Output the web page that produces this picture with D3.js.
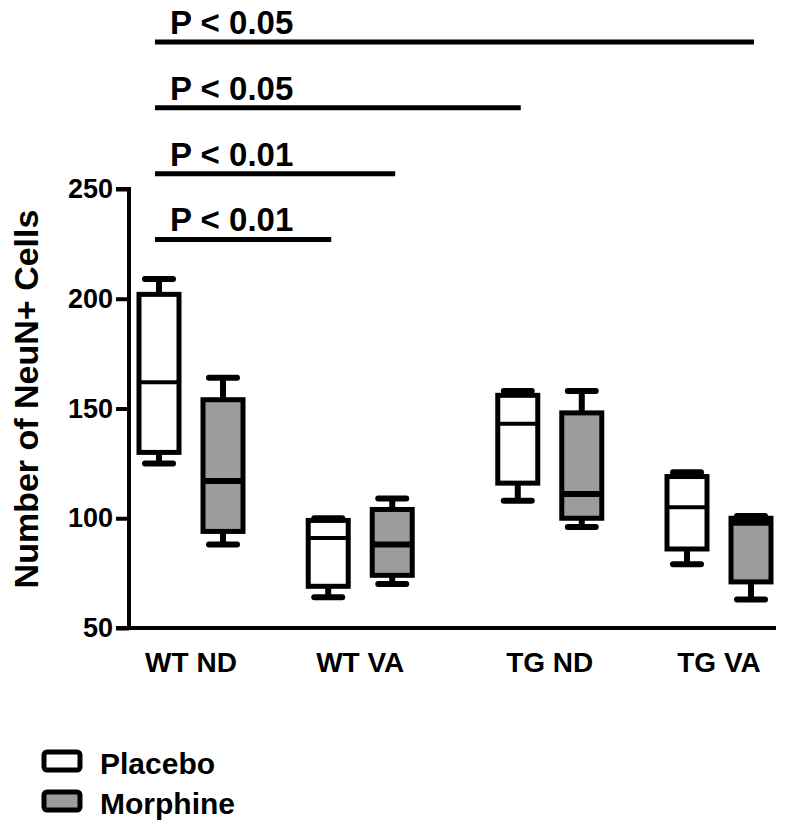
<!DOCTYPE html>
<html>
<head>
<meta charset="utf-8">
<script src="https://cdn.jsdelivr.net/npm/d3@7/dist/d3.min.js"></script>
<style>
  html, body { margin: 0; padding: 0; background: #fff; }
  svg { display: block; }
  text { font-family: "Liberation Sans", Arial, sans-serif; font-weight: bold; fill: #000; }
</style>
</head>
<body>
<svg id="chart" width="800" height="833"></svg>
<script>
// ---------- data ----------
const groups = ["WT ND", "WT VA", "TG ND", "TG VA"];
const treatments = ["Placebo", "Morphine"];
// [whiskerLow, q1, median, q3, whiskerHigh] per group
const placeboStats = [
  [125, 130, 162, 202, 209],
  [64, 69, 91, 99, 100],
  [108, 116, 143, 156, 158],
  [79, 86, 105, 119, 121]
];
const morphineStats = [
  [88, 94, 117, 154, 164],
  [70, 74, 88, 104, 109],
  [96, 100, 111, 148, 158],
  [63, 71, 98, 100, 101]
];
const yTicks = [50, 100, 150, 200, 250];
const yLabel = "Number of NeuN+ Cells";
// significance comparisons: [from group, from treatment, to group, to treatment, label, level]
const comparisons = [
  ["WT ND", "Placebo", "WT VA", "Placebo", "P < 0.01", 227],
  ["WT ND", "Placebo", "WT VA", "Morphine", "P < 0.01", 257],
  ["WT ND", "Placebo", "TG ND", "Placebo", "P < 0.05", 287],
  ["WT ND", "Placebo", "TG VA", "Morphine", "P < 0.05", 317]
];
const fills = { Placebo: "#ffffff", Morphine: "#9c9c9c" };

// ---------- layout ----------
const svg = d3.select("#chart");
const y = d3.scaleLinear().domain([50, 250]).range([628, 189]);
const slot = (i) => i + (i >= 2 ? 0.12 : 0);
const xg = d3.scaleLinear().domain([0, slot(3)]).range([191, 719]);
const offset = { Placebo: -32, Morphine: 32 };
const cx = (g, t) => xg(slot(groups.indexOf(g))) + offset[t];
const boxW = 40, sw = 5, capW = 28;

// axes
const yAxis = d3.axisLeft(y).tickValues(yTicks).tickSize(13).tickPadding(3);
const gy = svg.append("g").attr("transform", "translate(129,0)").call(yAxis);
gy.select(".domain").attr("stroke-width", 4).attr("d", `M-13,${y(250)}H0V${y(50) + 2}`);
gy.selectAll(".tick line").attr("stroke-width", 4);
gy.selectAll(".tick text").style("font-size", "27px").style("font-family", "'Liberation Sans', Arial, sans-serif").style("font-weight", "bold").attr("fill", "#000");

svg.append("line").attr("x1", 116).attr("x2", 776).attr("y1", y(50)).attr("y2", y(50))
  .attr("stroke", "#000").attr("stroke-width", 4);

svg.selectAll(".xlab").data(groups).enter().append("text")
  .attr("class", "xlab")
  .attr("x", (d, i) => xg(slot(i)))
  .attr("y", 672)
  .attr("text-anchor", "middle")
  .style("font-size", "28px")
  .text(d => d);

svg.append("text")
  .attr("transform", `translate(38,399) rotate(-90)`)
  .attr("text-anchor", "middle")
  .style("font-size", "34px")
  .text(yLabel);

// boxes
function drawBoxes(stats, t) {
  const g = svg.append("g");
  stats.forEach((s, i) => {
    const c = cx(groups[i], t);
    const [lo, q1, med, q3, hi] = s;
    g.append("line").attr("x1", c).attr("x2", c).attr("y1", y(hi)).attr("y2", y(q3))
      .attr("stroke", "#000").attr("stroke-width", 6);
    g.append("line").attr("x1", c).attr("x2", c).attr("y1", y(q1)).attr("y2", y(lo))
      .attr("stroke", "#000").attr("stroke-width", 6);
    [lo, hi].forEach(v => {
      g.append("line").attr("x1", c - capW / 2).attr("x2", c + capW / 2)
        .attr("y1", y(v)).attr("y2", y(v))
        .attr("stroke", "#000").attr("stroke-width", 6).attr("stroke-linecap", "round");
    });
    g.append("rect").attr("x", c - boxW / 2).attr("width", boxW)
      .attr("y", y(q3)).attr("height", y(q1) - y(q3))
      .attr("fill", fills[t]).attr("stroke", "#000").attr("stroke-width", sw);
    g.append("line").attr("x1", c - boxW / 2).attr("x2", c + boxW / 2)
      .attr("y1", y(med)).attr("y2", y(med))
      .attr("stroke", "#000").attr("stroke-width", t === "Morphine" ? 6 : 4);
  });
}
drawBoxes(placeboStats, "Placebo");
drawBoxes(morphineStats, "Morphine");

// significance bars
comparisons.forEach(([g1, t1, g2, t2, label, lvl]) => {
  const x1 = cx(g1, t1) - 4, x2 = cx(g2, t2) + 3;
  svg.append("line").attr("x1", x1).attr("x2", x2).attr("y1", y(lvl)).attr("y2", y(lvl))
    .attr("stroke", "#000").attr("stroke-width", 5);
  svg.append("text").attr("x", x1 + 15).attr("y", y(lvl) - 8)
    .style("font-size", "33px").text(label);
});

// legend
const leg = svg.append("g");
treatments.forEach((t, i) => {
  const yy = 750 + i * 40;
  leg.append("rect").attr("x", 44).attr("y", yy + 2).attr("width", 36).attr("height", 18)
    .attr("rx", 3).attr("fill", fills[t]).attr("stroke", "#000").attr("stroke-width", 5);
  leg.append("text").attr("x", 100).attr("y", yy + 24).style("font-size", "30px").text(t);
});
</script>
</body>
</html>
